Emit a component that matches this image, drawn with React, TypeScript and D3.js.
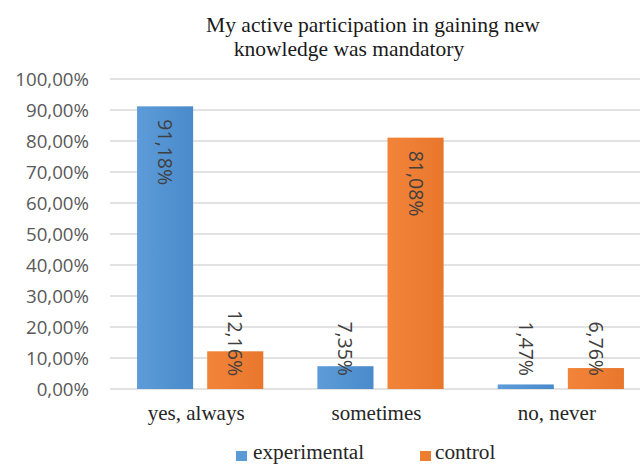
import React from "react";
import * as d3 from "d3";

const categories = ["yes, always", "sometimes", "no, never"];
const seriesNames = ["experimental", "control"];
const experimental = [91.18, 7.35, 1.47];
const control = [12.16, 81.08, 6.76];
const yTicks = [0, 10, 20, 30, 40, 50, 60, 70, 80, 90, 100];
const titleLines = ["My active participation in gaining new", "knowledge was mandatory"];

const W = 640;
const H = 465;
const plotLeft = 110;
const plotRight = 651;
const y0 = 389;
const y100 = 79;

const fmt = (v: number) => v.toFixed(2).replace(".", ",") + "%";

const sans = "Open Sans";
const serif = "Liberation Serif";

export default function App() {
  const x = d3.scaleBand<string>().domain(categories).range([plotLeft, plotRight]).paddingInner(0.3).paddingOuter(0.15);
  const x1 = d3.scaleBand<string>().domain(seriesNames).range([0, x.bandwidth()]).paddingInner(0.2);
  const y = d3.scaleLinear().domain([0, 100]).range([y0, y100]);
  const series = [
    { name: "experimental", values: experimental, fill: "url(#gBlue)", legend: "#5b9bd5" },
    { name: "control", values: control, fill: "url(#gOrange)", legend: "#ed7d31" },
  ];
  return (
    <svg width={W} height={H} style={{ position: "absolute", left: 0, top: 0, background: "#fff" }}>
      <defs>
        <linearGradient id="gBlue" x1="0" y1="0" x2="1" y2="0">
          <stop offset="0" stopColor="#5d9cd8" />
          <stop offset="1" stopColor="#4b8acb" />
        </linearGradient>
        <linearGradient id="gOrange" x1="0" y1="0" x2="1" y2="0">
          <stop offset="0" stopColor="#f2843a" />
          <stop offset="1" stopColor="#e8772c" />
        </linearGradient>
      </defs>
      <rect x={0} y={0} width={W} height={H} fill="#fff" />
      <g fontFamily={serif} fontSize={21.5} fill="#1a1a1a" textAnchor="middle">
        <text x={373} y={32}>{titleLines[0]}</text>
        <text x={349} y={56}>{titleLines[1]}</text>
      </g>
      {yTicks.map((t) => (
        <g key={t}>
          <line x1={110} x2={W} y1={y(t)} y2={y(t)} stroke="#d9d9d9" strokeWidth={1.5} />
          <text x={89} y={y(t)} dy="0.36em" textAnchor="end" fontFamily={sans} fontSize={18.7} fill="#595959">
            {fmt(t)}
          </text>
        </g>
      ))}
      {categories.map((c, i) => (
        <g key={c} transform={`translate(${x(c)},0)`}>
          {series.map((s) => {
            const v = s.values[i];
            const bx = x1(s.name)!;
            const bw = x1.bandwidth();
            const top = y(v);
            const cx = bx + bw / 2;
            const big = v > 30;
            const ly = big ? top + 13 : y(0) - 13;
            return (
              <g key={s.name}>
                <rect x={bx} y={top} width={bw} height={y(0) - top} fill={s.fill} />
                <text
                  transform={`translate(${cx},${ly}) rotate(90)`}
                  textAnchor={big ? "start" : "end"}
                  dy="0.36em"
                  fontFamily={sans}
                  fontSize={19.5}
                  fill="#404040"
                >
                  {fmt(v)}
                </text>
              </g>
            );
          })}
          <text x={x.bandwidth() / 2 - 4} y={420} textAnchor="middle" fontFamily={serif} fontSize={21} fill="#262626">
            {c}
          </text>
        </g>
      ))}
      <g fontFamily={serif} fontSize={21.3} fill="#262626">
        <rect x={236} y={451} width={11} height={10} fill={series[0].legend} />
        <text x={253} y={459}>{seriesNames[0]}</text>
        <rect x={420} y={451} width={11} height={10} fill={series[1].legend} />
        <text x={435} y={459}>{seriesNames[1]}</text>
      </g>
    </svg>
  );
}
